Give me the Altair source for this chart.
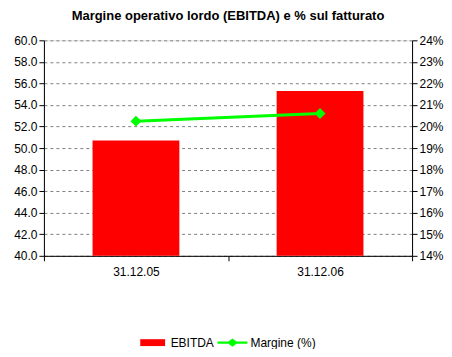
import altair as alt
import pandas as pd

categories = ["31.12.05", "31.12.06"]
ebitda = [50.7, 55.3]
margine = [20.25, 20.6]

df = pd.DataFrame({"cat": categories, "ebitda": ebitda, "margine": margine,
                   "s1": ["EBITDA", "EBITDA"], "s2": ["Margine (%)", "Margine (%)"]})

FONT = "Liberation Sans"

x = alt.X("cat:N", title=None, sort=categories,
          scale=alt.Scale(paddingInner=0, paddingOuter=0),
          axis=alt.Axis(labelAngle=0, tickBand="extent", domainColor="black",
                        tickColor="black", tickSize=5, labelFontSize=12,
                        labelColor="black", labelFont=FONT, labelPadding=6))

legend_common = dict(orient="none", direction="horizontal", symbolSize=900,
                     symbolStrokeWidth=0, labelFontSize=12, labelFont=FONT,
                     labelColor="black", labelOffset=3, title=None, legendY=288)

bars = alt.Chart(df).mark_bar(size=87, clip=True).encode(
    x=x,
    y=alt.Y("ebitda:Q", title=None,
            scale=alt.Scale(domain=[40, 60], nice=False, zero=False),
            axis=alt.Axis(values=list(range(40, 61, 2)), format=".1f",
                          grid=True, gridDash=[3, 3], gridColor="#808080",
                          domainColor="black", tickColor="black", tickSize=5,
                          labelFontSize=12, labelColor="black", labelFont=FONT)),
    color=alt.Color("s1:N", scale=alt.Scale(range=["#ff0000"]),
                    legend=alt.Legend(symbolType="M-0.83,-0.23H0.83V0.23H-0.83Z",
                                      legendX=94, **legend_common)),
)

y_right = alt.Y("margine:Q", title=None,
                scale=alt.Scale(domain=[14, 24], nice=False, zero=False),
                axis=alt.Axis(orient="right", values=list(range(14, 25)),
                              labelExpr="datum.value + '%'", grid=False,
                              labelOverlap=False,
                              domainColor="black", tickColor="black", tickSize=5,
                              labelFontSize=12, labelColor="black", labelFont=FONT))

line = alt.Chart(df).mark_line(color="#00ff00", strokeWidth=3).encode(
    x=alt.X("cat:N", sort=categories),
    y=y_right,
)

points = alt.Chart(df).mark_point(shape="diamond", size=120, filled=True, opacity=1).encode(
    x=alt.X("cat:N", sort=categories),
    y=y_right,
    fill=alt.Fill("s2:N", scale=alt.Scale(range=["#00ff00"]),
                  legend=alt.Legend(symbolType="M-1,-0.07H-0.27L0,-0.27L0.27,-0.07H1V0.07H0.27L0,0.27L-0.27,0.07H-1Z",
                                    legendX=174, **legend_common)),
)

right = alt.layer(line, points)

chart = alt.layer(bars, right).resolve_scale(y="independent").properties(
    width=369, height=216,
    title=alt.TitleParams("Margine operativo lordo (EBITDA) e % sul fatturato",
                          font=FONT, fontSize=13, fontWeight="bold", color="black",
                          anchor="middle", offset=11),
).configure_view(stroke=None).configure(background="white", padding={"left": 5, "top": 2, "right": 0, "bottom": 0})

chart.save("out.html", embed_options={"renderer": "svg", "actions": False})
